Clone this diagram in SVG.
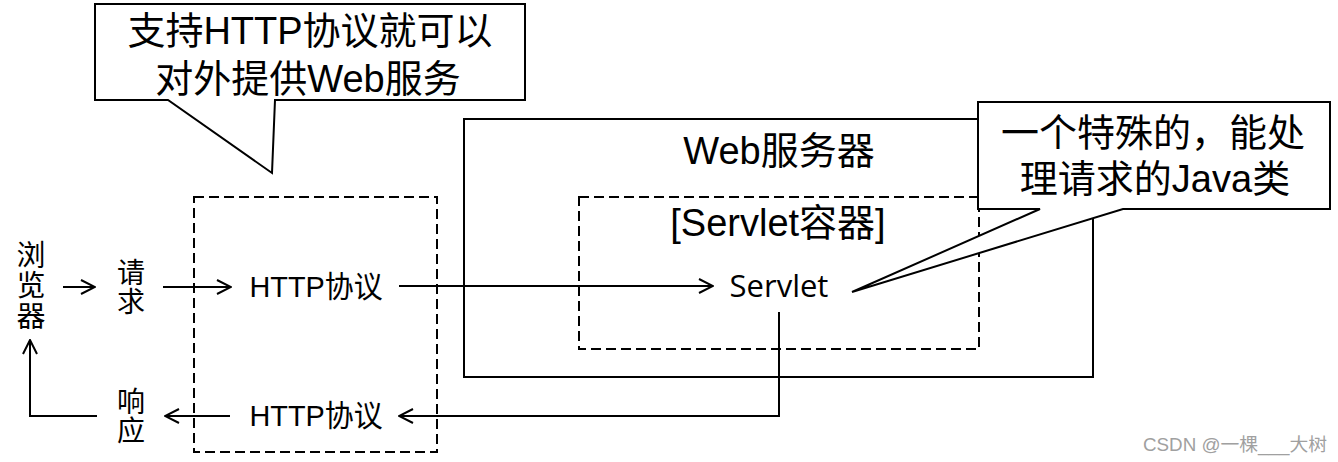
<svg xmlns="http://www.w3.org/2000/svg" width="1338" height="462" viewBox="0 0 1338 462">
<style>
.ln{fill:none;stroke:#000;stroke-width:2}
.dash{fill:none;stroke:#000;stroke-width:2;stroke-dasharray:10 5}
.call{fill:#fff;stroke:#000;stroke-width:2;stroke-linejoin:miter}
.t{font-family:"Liberation Sans","Noto Sans CJK SC",sans-serif;fill:#000;text-anchor:middle}
.big{font-size:38px}
.sm{font-size:29px}
.xs{font-size:28px}
.sv{font-family:"Open Sans","Noto Sans",sans-serif;font-size:31px;fill:#000;text-anchor:middle}
.wm{font-family:"Liberation Sans","Noto Sans CJK SC",sans-serif;font-size:18px;fill:#a0a0a0}
</style>
<defs>
<marker id="arr" viewBox="0 0 16 16" refX="15" refY="8" markerWidth="16" markerHeight="16" markerUnits="userSpaceOnUse" orient="auto">
<path d="M1,1 L15,8 L1,15" fill="none" stroke="#000" stroke-width="2"/>
</marker>
</defs>
<rect width="1338" height="462" fill="#fff"/>

<g id="web-server">
<rect class="ln" x="464" y="119" width="629" height="258"/>
<text class="t big" x="779" y="164">Web服务器</text>
</g>
<g id="servlet-container">
<rect class="dash" x="579" y="197" width="400" height="152"/>
<text class="t big" x="778" y="236">[Servlet容器]</text>
</g>
<g id="servlet">
<text class="sv" x="779" y="297">Servlet</text>
</g>
<g id="http-layer">
<rect class="dash" x="194" y="197" width="243" height="255"/>
</g>
<g id="browser">
<text class="t sm" x="31" y="266">浏</text>
<text class="t sm" x="31" y="296">览</text>
<text class="t sm" x="31" y="327">器</text>
</g>
<g id="request">
<text class="t xs" x="131" y="283">请</text>
<text class="t xs" x="131" y="312">求</text>
</g>
<g id="response">
<text class="t xs" x="131" y="412">响</text>
<text class="t xs" x="131" y="441">应</text>
</g>
<g id="http-in">
<text class="t" font-size="30" x="316" y="297" textLength="133" lengthAdjust="spacingAndGlyphs">HTTP协议</text>
</g>
<g id="http-out">
<text class="t" font-size="30" x="316" y="426" textLength="133" lengthAdjust="spacingAndGlyphs">HTTP协议</text>
</g>

<g id="connectors">
<path class="ln" d="M63,287 L95,287" marker-end="url(#arr)"/>
<path class="ln" d="M163,287 L231,287" marker-end="url(#arr)"/>
<path class="ln" d="M399,286 L713,286" marker-end="url(#arr)"/>
<path class="ln" d="M779,312 L779,416 L399,416" marker-end="url(#arr)"/>
<path class="ln" d="M230,416 L165,416" marker-end="url(#arr)"/>
<path class="ln" d="M97,416 L30,416 L30,340" marker-end="url(#arr)"/>
</g>

<g id="callout-http">
<path class="call" d="M95,4 L525,4 L525,100 L275,100 L272,173 L168,100 L95,100 Z"/>
<text class="t big" x="310" y="44">支持HTTP协议就可以</text>
<text class="t big" x="308" y="92">对外提供Web服务</text>
</g>
<g id="callout-servlet">
<path class="call" d="M978,102 L1330,102 L1330,209 L1123,209 L852,292 L1040,209 L978,209 Z"/>
<text class="t big" x="1153" y="146">一个特殊的，能处</text>
<text class="t big" x="1155" y="192">理请求的Java类</text>
</g>
<g id="watermark">
<text class="wm" x="1143" y="451" textLength="184" lengthAdjust="spacingAndGlyphs">CSDN @一棵___大树</text>
</g>
</svg>
